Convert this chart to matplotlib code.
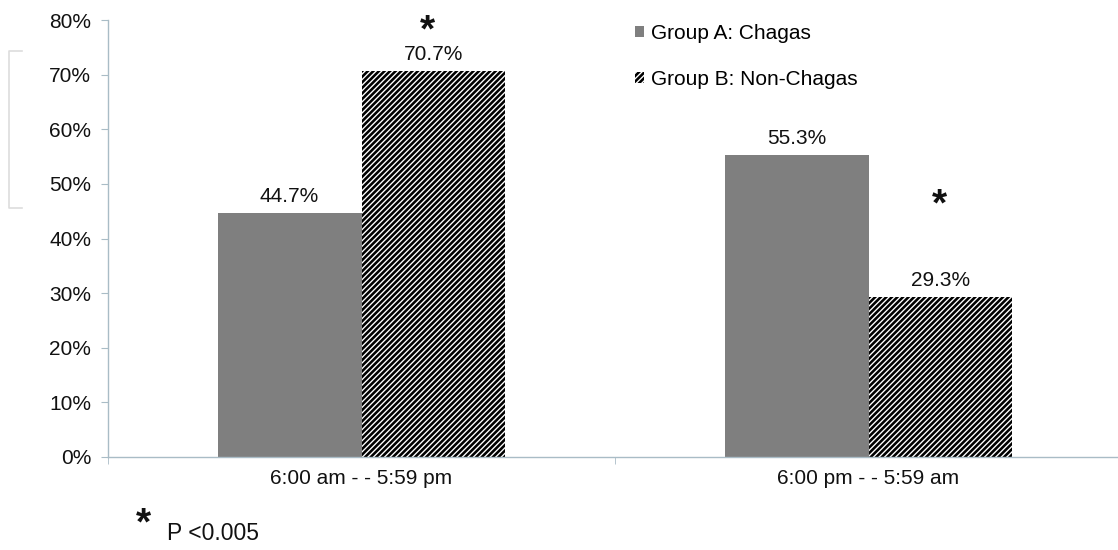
import matplotlib
matplotlib.use("Agg")
import matplotlib.pyplot as plt
import numpy as np
from matplotlib.lines import Line2D

plt.rcParams['font.family'] = ['Liberation Sans', 'DejaVu Sans']
plt.rcParams['hatch.linewidth'] = 1.85

categories = ["6:00 am - - 5:59 pm", "6:00 pm - - 5:59 am"]
series_names = ["Group A: Chagas", "Group B: Non-Chagas"]
group_a = [44.7, 55.3]
group_b = [70.7, 29.3]
yticks = [0, 10, 20, 30, 40, 50, 60, 70, 80]
star_positions = [(0.13, 76.1), (1.14, 44.3)]  # (x in category units, y in %)
footnote = "P <0.005"

fs = 15
fig = plt.figure(figsize=(11.18, 5.5), dpi=100)
ax = fig.add_axes([108/1118, 1-457/550, 1014/1118, (457-20)/550])

x = np.arange(len(categories))
w = 0.284
spine_col = "#a9bcc6"

bars_a = ax.bar(x - w/2, group_a, w, color="#7f7f7f", edgecolor="none", label=series_names[0])
bars_b = ax.bar(x + w/2, group_b, w, color="white", edgecolor="black", linewidth=0,
                hatch="//////", label=series_names[1])

for rect, v in zip(list(bars_a) + list(bars_b), group_a + group_b):
    ax.text(rect.get_x() + rect.get_width()/2, v + 1.25, f"{v:.1f}%",
            ha="center", va="bottom", fontsize=fs, color="#111111")

for sx, sy in star_positions:
    ax.text(sx, sy, "*", ha="center", va="baseline", fontsize=28, fontweight="bold",
            color="#111111")

ax.set_xlim(-0.5, 1.5)
ax.set_ylim(0, 80)
ax.set_yticks(yticks)
ax.set_yticklabels([f"{t}%" for t in yticks], fontsize=fs, color="#111111")
ax.set_xticks(x)
ax.set_xticklabels(categories, fontsize=fs, color="#111111")
ax.tick_params(axis="x", length=0, pad=9)
ax.tick_params(axis="y", length=5, color=spine_col, pad=7)
ax.set_xticks([-0.5, 0.5, 1.5], minor=True)
ax.tick_params(axis="x", which="minor", length=5, color=spine_col, direction="out")

for s in ["top", "right"]:
    ax.spines[s].set_visible(False)
ax.spines["left"].set_color(spine_col)
ax.spines["bottom"].set_color(spine_col)
ax.spines["left"].set_linewidth(1.0)
ax.spines["bottom"].set_linewidth(1.0)

leg = ax.legend(loc="upper left", bbox_to_anchor=(635/1118, 1-24/550),
                bbox_transform=fig.transFigure, frameon=False, fontsize=fs,
                handlelength=0.45, handleheight=0.45, handletextpad=0.3,
                labelspacing=1.3, borderaxespad=0, borderpad=0)

# faint bracket at left edge
fig.add_artist(Line2D([22/1118, 9/1118, 9/1118, 22/1118],
                      [1-51/550, 1-51/550, 1-208/550, 1-208/550],
                      transform=fig.transFigure, color="#dddddd", linewidth=1.2))

# footnote
fig.text(143/1118, 1-534/550, "*", ha="center", va="baseline", fontsize=28,
         fontweight="bold", color="#111111")
fig.text(167/1118, 1-534/550, footnote, ha="left", va="center", fontsize=16.5,
         color="#111111")

fig.savefig("out.png", dpi=100)
